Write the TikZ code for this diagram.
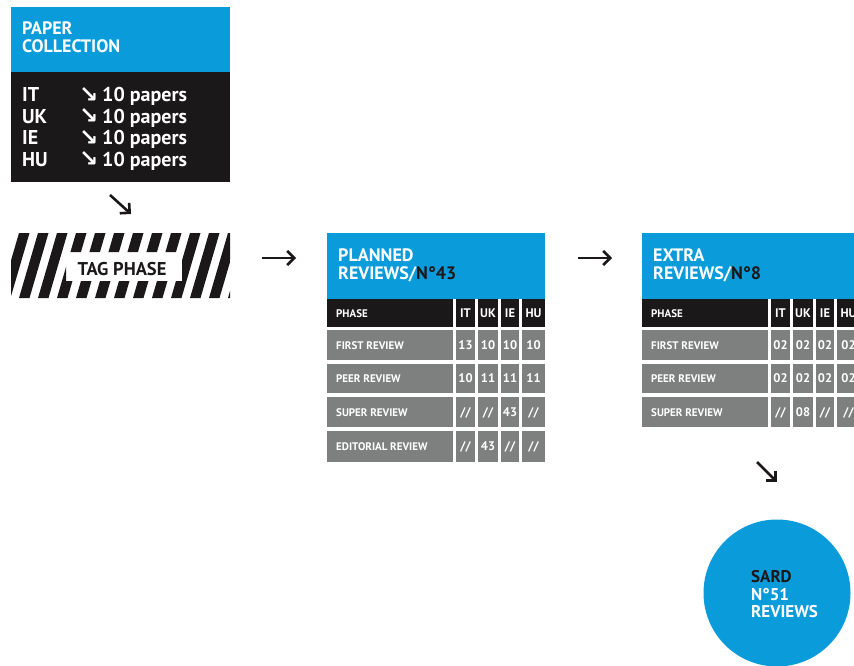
\documentclass[tikz,border=0pt]{standalone}
\usepackage{fontspec}
\setmainfont{PT Sans}
\newfontfamily\symfont{DejaVu Sans}
\usetikzlibrary{arrows.meta}
\definecolor{cblue}{HTML}{0A9BDA}
\definecolor{cblack}{HTML}{1B1819}
\definecolor{cgray}{HTML}{7E807F}
\tikzset{
  conn/.style={-{Straight Barb[length=7pt,width=14pt,line width=2.6pt]}, line width=2.6pt, draw=cblack},
  ttl/.style={anchor=base west, text=white, inner sep=0, text height=13pt, text depth=0pt, font=\bfseries\fontsize{18}{16}\selectfont},
  rowtxt/.style={anchor=base west, text=white, inner sep=0, font=\bfseries\fontsize{20}{20}\selectfont},
  rowarr/.style={anchor=base west, text=white, inner sep=0, text height=14pt, text depth=0pt, font=\symfont\bfseries\fontsize{23}{23}\selectfont},
  cell/.style={anchor=base west, text=white, inner sep=0, font=\bfseries\fontsize{11}{11}\selectfont},
  num/.style={anchor=base, text=white, inner sep=0, font=\bfseries\fontsize{12.5}{12.5}\selectfont},
  hold/.style={rectangle, inner sep=0, draw=none},
}
\newcommand\mytabrow[9]{%
  \fill[#3] (0,#1) rectangle (126,#2);
  \fill[#3] (129,#1) rectangle (148,#2);
  \fill[#3] (151,#1) rectangle (171,#2);
  \fill[#3] (174,#1) rectangle (192,#2);
  \fill[#3] (195,#1) rectangle (#9,#2);
  \node[cell] at (9,{(#1+#2)/2+4}) {#4};
  \node[num] at (138.5,{(#1+#2)/2+4.4}) {#5};
  \node[num] at (161,{(#1+#2)/2+4.4}) {#6};
  \node[num] at (183,{(#1+#2)/2+4.4}) {#7};
  \node[num] at (206.5,{(#1+#2)/2+4.4}) {#8};
}
\begin{document}
\begin{tikzpicture}[x=1pt,y=-1pt]
\clip (0,0) rectangle (854,666);
\fill[white] (0,0) rectangle (854,666);

% Paper collection
\node[hold, minimum width=219, minimum height=175] (paper) at (120.5,94.5) {};
\fill[cblue] (11,7) rectangle (230,72);
\fill[cblack] (11,72) rectangle (230,182);
\node[ttl] (pt1) at (22,35) {PAPER};
\node[ttl] (pt2) at (22,53) {COLLECTION};
\foreach \lab/\yy [count=\i] in {IT/102,UK/123.5,IE/145,HU/166.5}{
  \node[rowtxt] (pl\i) at (22,\yy) {\lab};
  \node[rowarr] (pa\i) at (79,\yy+0.5) {↘};
  \node[rowtxt] (pn\i) at (102,\yy) {10 papers};
}

% Tag phase
\node[hold, minimum width=219, minimum height=65] (tag) at (120.5,265.5) {};
\begin{scope}[even odd rule]
  \clip (11,233) rectangle (230,298) (66,252) rectangle (182,281);
  \foreach \i in {-3,...,13}
    \fill[cblack] ({\i*19},298) -- ({\i*19+10.5},298) -- ({\i*19+29.5},233) -- ({\i*19+19},233) -- cycle;
\end{scope}
\node[anchor=base, inner sep=0, text=cblack, font=\bfseries\fontsize{18.5}{18}\selectfont] (tagtxt) at (122,275) {TAG PHASE};

% Planned reviews
\node[hold, minimum width=218, minimum height=229] (planned) at (436,347.5) {};
\begin{scope}[xshift=327pt]
  \fill[cblue] (0,233) rectangle (218,299);
  \node[ttl] (plt1) at (11,261) {PLANNED};
  \node[ttl] (plt2) at (11,279) {REVIEWS/\textcolor{cblack}{N°43}};
  \mytabrow{299}{327}{cblack}{PHASE}{IT}{UK}{IE}{HU}{218}
  \mytabrow{330}{360}{cgray}{FIRST REVIEW}{13}{10}{10}{10}{218}
  \mytabrow{364}{393}{cgray}{PEER REVIEW}{10}{11}{11}{11}{218}
  \mytabrow{397}{427}{cgray}{SUPER REVIEW}{//}{//}{43}{//}{218}
  \mytabrow{431}{462}{cgray}{EDITORIAL REVIEW}{//}{43}{//}{//}{218}
\end{scope}

% Extra reviews
\node[hold, minimum width=218, minimum height=194] (extra) at (751,330) {};
\begin{scope}[xshift=642pt]
  \fill[cblue] (0,233) rectangle (218,299);
  \node[ttl] (ext1) at (11,261) {EXTRA};
  \node[ttl] (ext2) at (11,279) {REVIEWS/\textcolor{cblack}{N°8}};
  \mytabrow{299}{327}{cblack}{PHASE}{IT}{UK}{IE}{HU}{230}
  \mytabrow{330}{360}{cgray}{FIRST REVIEW}{02}{02}{02}{02}{230}
  \mytabrow{364}{393}{cgray}{PEER REVIEW}{02}{02}{02}{02}{230}
  \mytabrow{397}{427}{cgray}{SUPER REVIEW}{//}{08}{//}{//}{230}
\end{scope}

% SARD circle
\node[circle, fill=cblue, minimum size=147, inner sep=0] (sard) at (777,593) {};
\node[anchor=base west, inner sep=0, text=cblack, font=\bfseries\fontsize{17}{17}\selectfont] (s1) at (751,582) {SARD};
\node[anchor=base west, inner sep=0, text=white, font=\bfseries\fontsize{17}{17}\selectfont] (s2) at (751,600) {N°51};
\node[anchor=base west, inner sep=0, text=white, font=\bfseries\fontsize{17}{17}\selectfont] (s3) at (751,617) {REVIEWS};

% connectors
\coordinate (c1a) at (110,195);
\coordinate (c1b) at (131,214);
\coordinate (c2a) at (262,258);
\coordinate (c2b) at (296,258);
\coordinate (c3a) at (578,258);
\coordinate (c3b) at (612,258);
\coordinate (c4a) at (757,462);
\coordinate (c4b) at (777,482);
\draw[conn] (c1a) -- (c1b);
\draw[conn] (c2a) -- (c2b);
\draw[conn] (c3a) -- (c3b);
\draw[conn] (c4a) -- (c4b);
\end{tikzpicture}
\end{document}
